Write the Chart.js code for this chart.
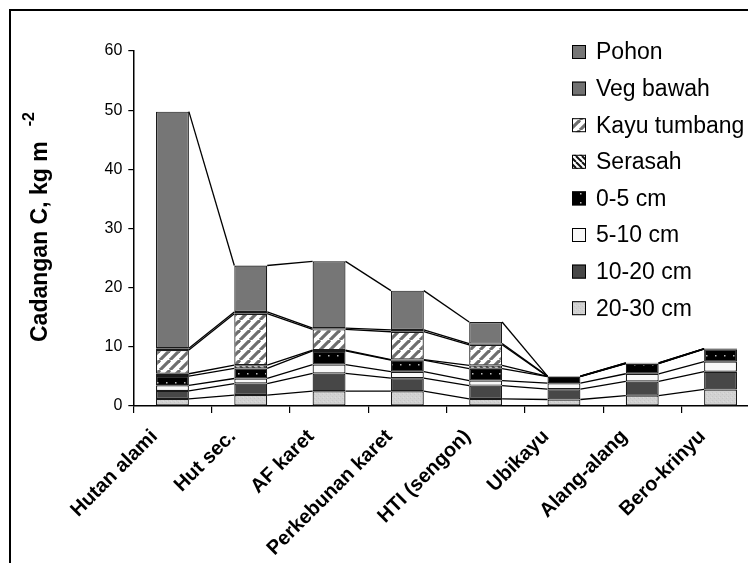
<!DOCTYPE html>
<html><head><meta charset="utf-8">
<script src="https://cdn.jsdelivr.net/npm/chart.js@4.4.1/dist/chart.umd.min.js"></script>
<style>
html,body{margin:0;padding:0;overflow:hidden;background:#fff;width:748px;height:563px;}
#frame{position:absolute;left:9px;top:9px;width:900px;height:900px;border:2px solid #000;box-sizing:border-box;}
#wrap{position:absolute;left:0;top:0;width:780px;height:563px;}
canvas{display:block;}
</style></head>
<body>
<div id="frame"></div>
<div id="wrap"><canvas id="c" width="780" height="563" style="width:780px;height:563px"></canvas></div>
<script>
// ---- data ----
const categories = ['Hutan alami','Hut sec.','AF karet','Perkebunan karet','HTI (sengon)','Ubikayu','Alang-alang','Bero-krinyu'];
const soil2030  = [1.2, 1.85, 2.5, 2.5, 1.2, 1.1, 1.75, 2.8];
const soil1020  = [1.35, 1.95, 3.0, 2.2, 2.25, 1.75, 2.4, 3.0];
const soil510   = [0.95, 0.85, 1.5, 1.1, 0.85, 1.0, 1.3, 1.7];
const soil05    = [1.55, 1.7, 2.3, 1.95, 2.0, 1.1, 1.7, 2.1];
const serasah   = [0.4, 0.55, 0.15, 0.1, 0.55, 0.05, 0.05, 0.05];
const kayu      = [4.0, 8.7, 3.5, 4.7, 3.5, 0, 0, 0];
const vegBawah  = [0.3, 0.3, 0.2, 0.3, 0.2, 0.05, 0.1, 0.05];
const pohon     = [40.0, 7.85, 11.3, 6.65, 3.65, 0, 0, 0];
const yTicks    = [0, 10, 20, 30, 40, 50, 60];
const yTitle = 'Cadangan C, kg m';
const yTitleSup = '-2';

const FONT = "'Liberation Sans', Arial, sans-serif";

// ---- patterns ----
function tile(w, h, draw){
  const c = document.createElement('canvas'); c.width = w; c.height = h;
  const g = c.getContext('2d'); draw(g, w, h);
  return document.createElement('canvas').getContext('2d').createPattern(c, 'repeat');
}
const pKayu = tile(10, 10, (g, w, h) => {
  g.fillStyle = '#ffffff'; g.fillRect(0, 0, w, h);
  g.strokeStyle = '#6e6e6e'; g.lineWidth = 3.2;
  for (const o of [-10, 0, 10]) { g.beginPath(); g.moveTo(o, h); g.lineTo(o + w, 0); g.stroke(); }
});
const pSerasah = tile(6, 6, (g, w, h) => {
  g.fillStyle = '#ffffff'; g.fillRect(0, 0, w, h);
  g.strokeStyle = '#111'; g.lineWidth = 2;
  for (const o of [-6, 0, 6]) { g.beginPath(); g.moveTo(o, 0); g.lineTo(o + w, h); g.stroke(); }
});
const p05 = tile(9, 9, (g, w, h) => {
  g.fillStyle = '#000'; g.fillRect(0, 0, w, h);
  g.fillStyle = '#bbbbbb'; g.fillRect(4, 4, 1.5, 1.5);
});
const p2030 = tile(4, 4, (g, w, h) => {
  g.fillStyle = '#d2d2d2'; g.fillRect(0, 0, w, h);
  g.fillStyle = '#c6c6c6'; g.fillRect(0, 0, 1, 1); g.fillRect(2, 2, 1, 1);
  g.fillStyle = '#dcdcdc'; g.fillRect(3, 1, 1, 1);
});

const BORDER = '#1a1a1a';
function ds(label, data, bg){
  return { label, data, backgroundColor: bg, borderColor: BORDER, borderWidth: 1.2, borderSkipped: false,
           barPercentage: 0.42, categoryPercentage: 1.0 };
}
const datasets = [
  ds('20-30 cm', soil2030, p2030),
  ds('10-20 cm', soil1020, '#474747'),
  ds('5-10 cm', soil510, '#f8f8f8'),
  ds('0-5 cm', soil05, p05),
  ds('Serasah', serasah, pSerasah),
  ds('Kayu tumbang', kayu, pKayu),
  ds('Veg bawah', vegBawah, '#727272'),
  ds('Pohon', pohon, '#767676'),
];

// series lines between bars
const seriesLines = {
  id: 'seriesLines',
  afterDatasetsDraw(chart){
    const ctx = chart.ctx; ctx.save();
    ctx.strokeStyle = '#000'; ctx.lineWidth = 1.3;
    chart.data.datasets.forEach((d, di) => {
      const meta = chart.getDatasetMeta(di);
      for (let i = 0; i < meta.data.length - 1; i++) {
        const a = meta.data[i], b = meta.data[i + 1];
        ctx.beginPath();
        ctx.moveTo(a.x + a.width / 2, a.y);
        ctx.lineTo(b.x - b.width / 2, b.y);
        ctx.stroke();
      }
    });
    ctx.restore();
  }
};

// legend inside plot (reverse order)
const insideLegend = {
  id: 'insideLegend',
  afterDraw(chart){
    const ctx = chart.ctx; ctx.save();
    const items = chart.data.datasets.slice().reverse();
    const x0 = 572, y0 = 52, dy = 36.6, s = 14;
    items.forEach((d, i) => {
      const cy = y0 + i * dy;
      ctx.fillStyle = d.backgroundColor;
      ctx.fillRect(x0, cy - s / 2, s, s);
      ctx.strokeStyle = '#000'; ctx.lineWidth = 1;
      ctx.strokeRect(x0 + 0.5, cy - s / 2 + 0.5, s - 1, s - 1);
      ctx.fillStyle = '#000';
      ctx.font = '23px ' + FONT;
      ctx.textBaseline = 'middle'; ctx.textAlign = 'left';
      ctx.fillText(d.label, 596, cy + 1);
    });
    ctx.restore();
  }
};

// rotated y-axis title with superscript
const yTitlePlugin = {
  id: 'yTitlePlugin',
  afterDraw(chart){
    const ctx = chart.ctx; ctx.save();
    ctx.translate(46.5, 342);
    ctx.rotate(-Math.PI / 2);
    ctx.fillStyle = '#000';
    ctx.textAlign = 'left'; ctx.textBaseline = 'alphabetic';
    ctx.font = 'bold 23px ' + FONT;
    ctx.fillText(yTitle, 0, 0);
    const w = ctx.measureText(yTitle).width;
    ctx.font = 'bold 16px ' + FONT;
    ctx.fillText(yTitleSup, w + 15, -13);
    ctx.restore();
  }
};

new Chart(document.getElementById('c'), {
  type: 'bar',
  data: { labels: categories, datasets },
  plugins: [seriesLines, insideLegend, yTitlePlugin],
  options: {
    responsive: false,
    animation: false,
    devicePixelRatio: 1,
    layout: { padding: { top: 51, right: 20.3, left: 0, bottom: 0 } },
    plugins: { legend: { display: false }, tooltip: { enabled: false } },
    scales: {
      x: {
        stacked: true, offset: true,
        grid: { offset: true, drawOnChartArea: false, drawTicks: true, tickLength: 7, color: '#000', lineWidth: 1.2 },
        border: { display: true, color: '#000', width: 1.5 },
        ticks: { autoSkip: false, maxRotation: 45, minRotation: 45, color: '#000', padding: 12, labelOffset: -18,
                 font: { family: FONT, size: 20, weight: 'bold' } },
        afterFit(s){ s.height = 563 - 406; }
      },
      y: {
        stacked: true, min: 0, max: 60,
        afterBuildTicks(s){ s.ticks = yTicks.map(v => ({ value: v })); },
        grid: { drawOnChartArea: false, drawTicks: true, tickLength: 5, color: '#000', lineWidth: 1.2 },
        border: { display: true, color: '#000', width: 1.5 },
        ticks: { color: '#000', padding: 6, font: { family: FONT, size: 16 } },
        afterFit(s){ s.width = 133.3; }
      }
    }
  }
});
</script>
</body></html>
